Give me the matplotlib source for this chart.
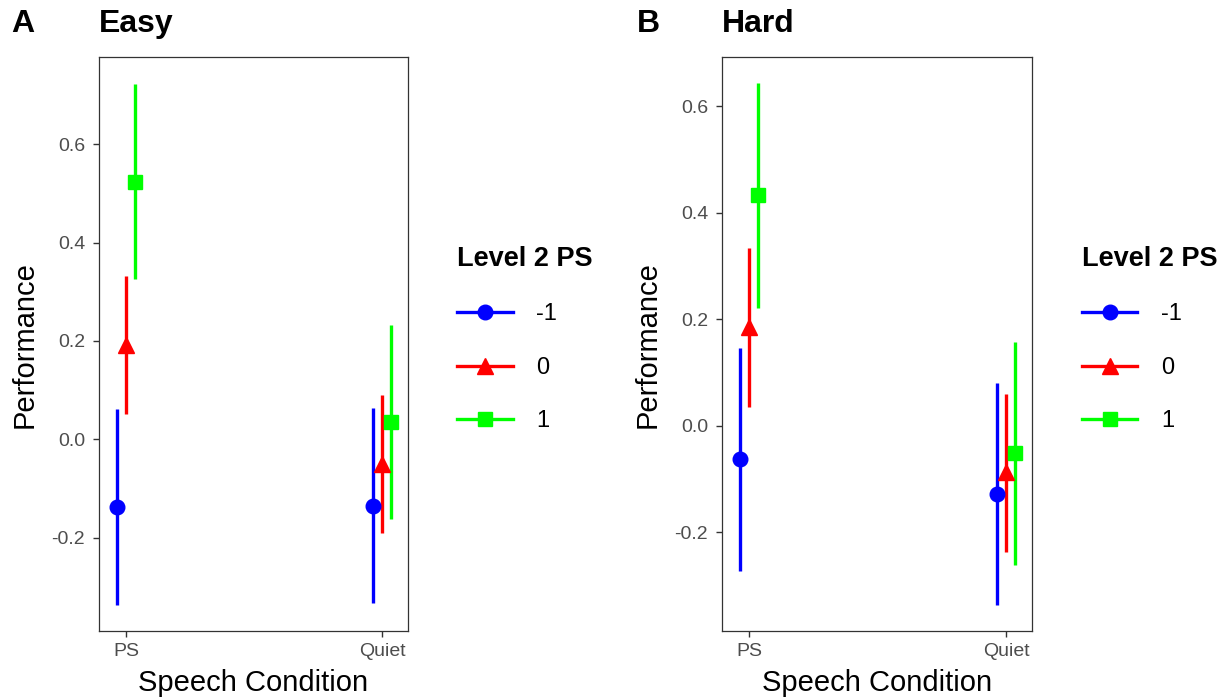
import numpy as np
import matplotlib.pyplot as plt
from matplotlib.lines import Line2D

plt.rcParams['font.family'] = ['Liberation Sans', 'DejaVu Sans']

conditions = ['PS', 'Quiet']
levels = ['-1', '0', '1']
colors = ['#0000FF', '#FF0000', '#00FF00']
markers = ['o', '^', 's']
msizes = [10.5, 11.5, 10]

# Easy: mean, lower, upper per level, for (PS, Quiet)
easy_mean = [[-0.138, -0.135], [0.192, -0.050], [0.524, 0.036]]
easy_low = [[-0.337, -0.334], [0.052, -0.190], [0.325, -0.163]]
easy_high = [[0.061, 0.063], [0.332, 0.090], [0.722, 0.233]]

# Hard
hard_mean = [[-0.063, -0.128], [0.186, -0.086], [0.433, -0.051]]
hard_low = [[-0.272, -0.336], [0.036, -0.237], [0.222, -0.261]]
hard_high = [[0.146, 0.081], [0.333, 0.059], [0.643, 0.158]]

dodge = [-0.035, 0.0, 0.035]


def draw_panel(ax, mean, low, high, ylim, yticks):
    x = np.arange(1, len(conditions) + 1)
    for i in range(len(levels)):
        xi = x + dodge[i]
        ax.vlines(xi, low[i], high[i], color=colors[i], lw=2.4, zorder=2)
        ax.plot(xi, mean[i], linestyle='none', marker=markers[i],
                markersize=msizes[i], color=colors[i], zorder=3)
    ax.set_xlim(0.895, 2.10)
    ax.set_ylim(*ylim)
    ax.set_xticks(x)
    ax.set_xticklabels(conditions)
    ax.set_yticks(yticks)
    ax.set_yticklabels([f'{t:.1f}' for t in yticks])
    ax.tick_params(colors='#333333', labelcolor='#4d4d4d', labelsize=14,
                   length=4, width=1)
    ax.tick_params(axis='x', pad=5)
    ax.tick_params(axis='y', pad=6)
    for s in ax.spines.values():
        s.set_color('#333333')
        s.set_linewidth(0.9)
    ax.set_xlabel('Speech Condition', fontsize=21, labelpad=6)
    ax.set_ylabel('Performance', fontsize=21, labelpad=9)


fig = plt.figure(figsize=(12.3, 6.98), dpi=100)
axA = fig.add_axes([0.0805, 0.096, 0.2512, 0.822])
axB = fig.add_axes([0.587, 0.096, 0.252, 0.822])

draw_panel(axA, easy_mean, easy_low, easy_high, (-0.39, 0.777),
           [-0.2, 0.0, 0.2, 0.4, 0.6])
draw_panel(axB, hard_mean, hard_low, hard_high, (-0.385, 0.692),
           [-0.2, 0.0, 0.2, 0.4, 0.6])

fig.text(0.009, 0.965, 'A', fontsize=23, fontweight='bold', va='center')
fig.text(0.080, 0.965, 'Easy', fontsize=23, fontweight='bold', va='center')
fig.text(0.518, 0.965, 'B', fontsize=23, fontweight='bold', va='center')
fig.text(0.587, 0.965, 'Hard', fontsize=23, fontweight='bold', va='center')

handles = [Line2D([0], [0], color=colors[i], lw=2.4, marker=markers[i],
                  markersize=msizes[i]) for i in range(len(levels))]

for ax, x0 in [(axA, 0.364), (axB, 0.872)]:
    leg = fig.legend(handles, levels, title='Level 2 PS', loc='upper left',
                     bbox_to_anchor=(x0, 0.661), frameon=False, fontsize=17,
                     title_fontproperties={'weight': 'bold', 'size': 19.5},
                     handlelength=2.35, handletextpad=1.0, labelspacing=1.33,
                     borderaxespad=0)
    leg._legend_box.align = 'left'

fig.savefig('out.png', dpi=100)
